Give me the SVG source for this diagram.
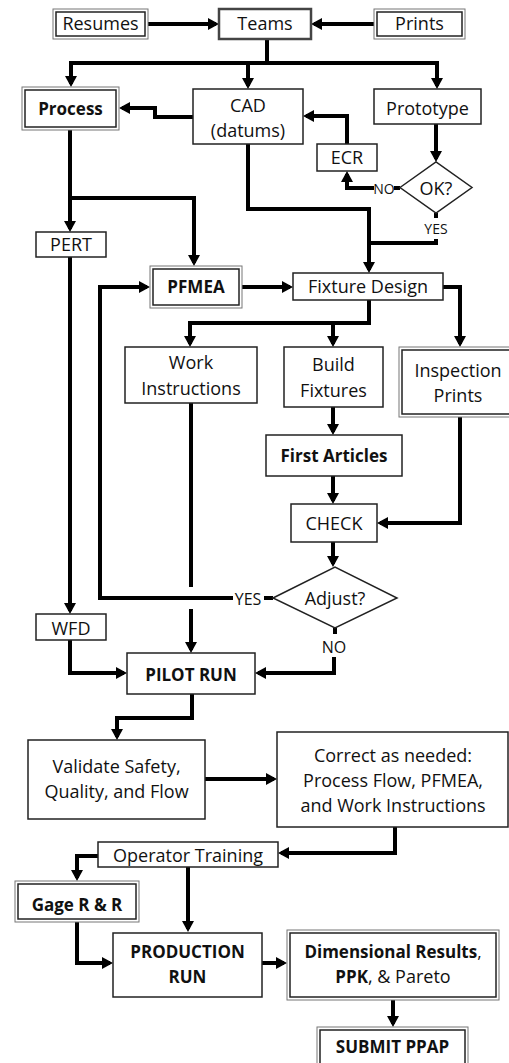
<svg xmlns="http://www.w3.org/2000/svg" width="509" height="1063" viewBox="0 0 509 1063">
<style>
.b{fill:#fff;stroke:#222;stroke-width:1.5}
.o{fill:#fff;stroke:#777;stroke-width:1}
.i{fill:none;stroke:#222;stroke-width:1.5}
.d{fill:#fff;stroke:#222;stroke-width:1.5}
text{font-family:"Open Sans","Liberation Sans",sans-serif;font-size:18px;text-anchor:middle;fill:#111}
.bd{font-weight:bold;font-size:17px}
.s{font-size:14px}
.m{font-size:16px}
.c{fill:none;stroke:#000;stroke-width:4;marker-end:url(#ah)}
.n{fill:none;stroke:#000;stroke-width:4}
</style>
<defs>
<marker id="ah" markerUnits="userSpaceOnUse" markerWidth="12" markerHeight="12" refX="8" refY="6" orient="auto">
<path d="M0,0 L11,6 L0,12 Z" fill="#000"/>
</marker>
</defs>
<g id="connectors">
<path class="c" d="M148,24 H216"/>
<path class="c" d="M374,24 H314"/>
<path class="n" d="M267,39 V63"/>
<path class="n" d="M69,63 H439"/>
<path class="c" d="M71,61 V84"/>
<path class="c" d="M248,63 V86"/>
<path class="c" d="M437,61 V86"/>
<path class="c" d="M193,117 H155 V108 H122"/>
<path class="c" d="M347,144 V116 H306"/>
<path class="c" d="M436,124 V159"/>
<path class="n" d="M400,188 H394"/>
<path class="c" d="M374,188 H347 V174"/>
<path class="n" d="M436,213 V218"/>
<path class="n" d="M436,239 V243 H369"/>
<path class="c" d="M248,144 V209 H369 V270"/>
<path class="c" d="M70,130 V229"/>
<path class="c" d="M70,198 H194 V263"/>
<path class="c" d="M70,257 V611"/>
<path class="c" d="M242,287 H290"/>
<path class="c" d="M443,287 H460 V344"/>
<path class="n" d="M369,300 V323"/>
<path class="n" d="M188,323 H371"/>
<path class="c" d="M190,323 V344"/>
<path class="c" d="M333,323 V344"/>
<path class="c" d="M333,407 V432"/>
<path class="c" d="M333,476 V501"/>
<path class="c" d="M460,417 V523 H380"/>
<path class="c" d="M333,542 V564"/>
<path class="n" d="M273,598 H264"/>
<path class="c" d="M233,598 H100 V287 H147"/>
<path class="n" d="M335,628 V634"/>
<path class="c" d="M334,657 V673 H258"/>
<path class="n" d="M191,403 V587"/>
<path class="c" d="M191,609 V650"/>
<path class="c" d="M70,640 V673 H124"/>
<path class="c" d="M192,694 V718 H117 V737"/>
<path class="c" d="M205,779 H274"/>
<path class="c" d="M395,827 V853 H281"/>
<path class="c" d="M98,856 H77 V878"/>
<path class="c" d="M188,867 V929"/>
<path class="c" d="M77,922 V963 H110"/>
<path class="c" d="M262,963 H284"/>
<path class="c" d="M393,1000 V1024"/>
</g>
<g id="resumes"><rect class="o" x="53" y="9" width="95" height="30"/><rect class="i" x="56" y="12" width="89" height="24"/><text x="100.5" y="30.4">Resumes</text></g>
<g id="teams"><rect class="b" x="219" y="9" width="92" height="30" style="stroke:#444;stroke-width:2.5"/><text x="265" y="30.4">Teams</text></g>
<g id="prints"><rect class="o" x="374" y="9" width="91" height="30"/><rect class="i" x="377" y="12" width="85" height="24"/><text x="419.5" y="30.4">Prints</text></g>
<g id="process"><rect class="o" x="22" y="87" width="97" height="43"/><rect class="i" x="25" y="90" width="91" height="37"/><text class="bd" x="70.5" y="114.5">Process</text></g>
<g id="cad"><rect class="b" x="193" y="89" width="110" height="55"/><text x="248" y="112.4">CAD</text><text x="248" y="136.5">(datums)</text></g>
<g id="prototype"><rect class="b" x="374" y="89" width="107" height="35"/><text x="427.5" y="115">Prototype</text></g>
<g id="ecr"><rect class="b" x="317" y="144" width="60" height="27"/><text x="347" y="164">ECR</text></g>
<g id="ok"><path class="d" d="M400,187.5 L436,162 L472,187.5 L436,213 Z"/><text x="436" y="195">OK?</text><text class="s" x="384" y="193.5">NO</text><text class="s" x="436" y="234">YES</text></g>
<g id="pert"><rect class="b" x="36" y="232" width="70" height="25"/><text x="71" y="251">PERT</text></g>
<g id="pfmea"><rect class="o" x="150" y="266" width="92" height="42"/><rect class="i" x="153" y="269" width="86" height="36"/><text class="bd" x="196" y="293">PFMEA</text></g>
<g id="fixture-design"><rect class="b" x="293" y="273" width="150" height="27"/><text x="368" y="293">Fixture Design</text></g>
<g id="work-instructions"><rect class="b" x="125" y="347" width="132" height="56"/><text x="191" y="369">Work</text><text x="191" y="395">Instructions</text></g>
<g id="build-fixtures"><rect class="b" x="284" y="347" width="99" height="60"/><text x="333.5" y="371">Build</text><text x="333.5" y="397">Fixtures</text></g>
<g id="inspection-prints"><rect class="o" x="399" y="347" width="114" height="70"/><rect class="i" x="402" y="350" width="108" height="64"/><text x="458" y="377">Inspection</text><text x="458" y="401.5">Prints</text></g>
<g id="first-articles"><rect class="b" x="266" y="435" width="136" height="41"/><text class="bd" x="334" y="462">First Articles</text></g>
<g id="check"><rect class="b" x="291" y="504" width="86" height="38"/><text x="334" y="530">CHECK</text></g>
<g id="adjust"><path class="d" d="M273,598 L335,567 L397,598 L335,628 Z"/><text x="335" y="605">Adjust?</text><text class="m" x="248" y="605">YES</text><text class="m" x="334" y="653">NO</text></g>
<g id="wfd"><rect class="b" x="36" y="614" width="70" height="26"/><text x="71" y="635">WFD</text></g>
<g id="pilot-run"><rect class="b" x="127" y="653" width="128" height="41"/><text class="bd" x="191" y="681">PILOT RUN</text></g>
<g id="validate"><rect class="b" x="28" y="740" width="177" height="79"/><text x="116.5" y="773">Validate Safety,</text><text x="116.5" y="798">Quality, and Flow</text></g>
<g id="correct"><rect class="b" x="277" y="732" width="231" height="95"/><text x="393" y="762">Correct as needed:</text><text x="393" y="787">Process Flow, PFMEA,</text><text x="393" y="812">and Work Instructions</text></g>
<g id="operator-training"><rect class="b" x="98" y="842" width="180" height="25"/><text x="188" y="862">Operator Training</text></g>
<g id="gage"><rect class="o" x="15" y="881" width="124" height="41"/><rect class="i" x="18" y="884" width="118" height="35"/><text class="bd" x="77" y="911">Gage R &amp; R</text></g>
<g id="production-run"><rect class="b" x="113" y="933" width="149" height="64"/><text class="bd" x="187.5" y="958">PRODUCTION</text><text class="bd" x="187.5" y="983">RUN</text></g>
<g id="dimensional"><rect class="o" x="287" y="930" width="212" height="70"/><rect class="i" x="290" y="933" width="206" height="64"/><text class="bd" x="393" y="958">Dimensional Results<tspan font-weight="normal">,</tspan></text><text x="393" y="983"><tspan class="bd">PPK</tspan>, &amp; Pareto</text></g>
<g id="submit-ppap"><rect class="o" x="317" y="1027" width="151" height="42"/><rect class="i" x="320" y="1030" width="145" height="36"/><text class="bd" x="392.5" y="1053">SUBMIT PPAP</text></g>
</svg>
